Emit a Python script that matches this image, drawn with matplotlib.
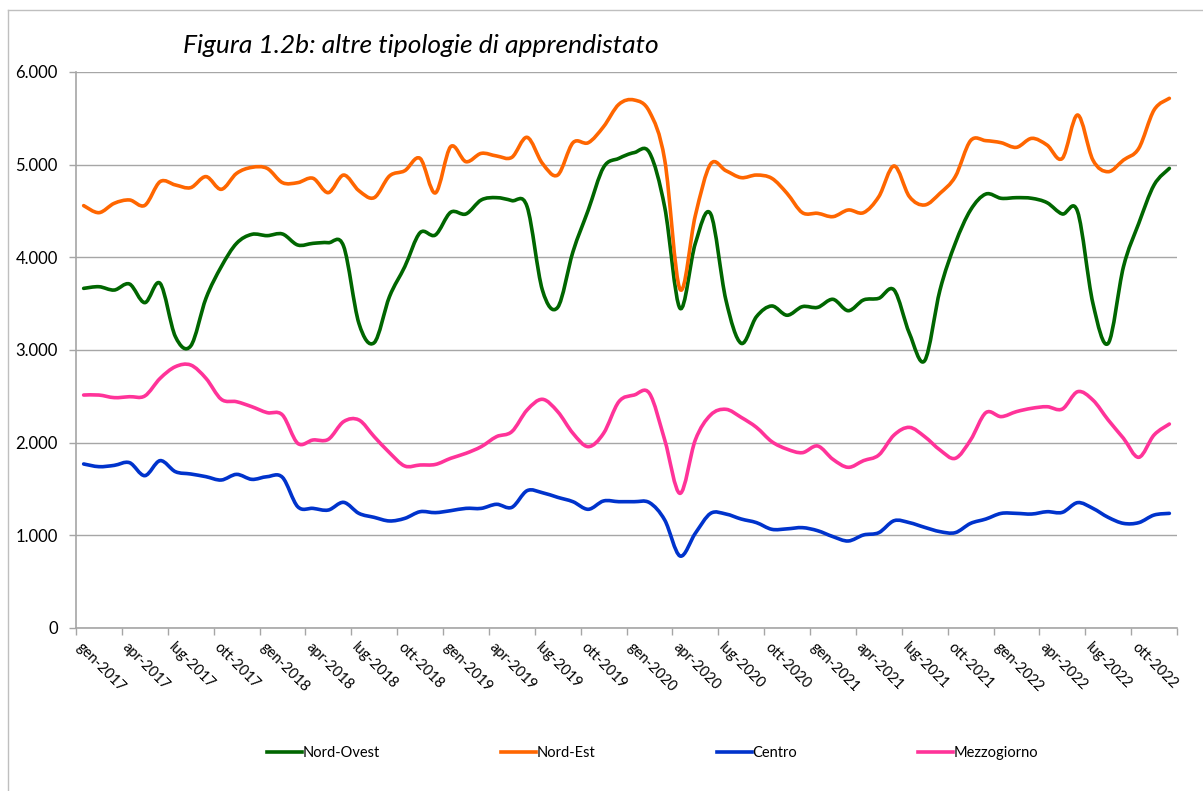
import matplotlib
matplotlib.use('Agg')
import matplotlib.pyplot as plt
import matplotlib.ticker as ticker
from matplotlib.path import Path
from matplotlib.patches import PathPatch
from matplotlib.lines import Line2D

plt.rcParams['font.family'] = ['Lato', 'DejaVu Sans']

months = ['gen', 'feb', 'mar', 'apr', 'mag', 'giu', 'lug', 'ago', 'set', 'ott', 'nov', 'dic']
years = [2017, 2018, 2019, 2020, 2021, 2022]
periods = [f'{m}-{y}' for y in years for m in months]

nord_ovest = [3665, 3683, 3647, 3712, 3511, 3719, 3144, 3043, 3558, 3899, 4151, 4248,
              4234, 4252, 4133, 4151, 4158, 4120, 3288, 3079, 3576, 3899, 4266, 4241,
              4486, 4468, 4619, 4644, 4612, 4547, 3647, 3460, 4061, 4511, 4971, 5068,
              5130, 5130, 4540, 3450, 4150, 4470, 3540, 3072, 3360, 3475, 3375,
              3468, 3460, 3547, 3424, 3540, 3558, 3647, 3180, 2885, 3647, 4151, 4511,
              4683, 4637, 4644, 4637, 4590, 4468, 4493, 3504, 3072, 3899, 4367, 4781, 4960]

nord_est = [4558, 4482, 4583, 4619, 4561, 4817, 4781, 4752, 4871, 4734, 4906, 4971,
            4960, 4806, 4806, 4853, 4698, 4888, 4719, 4644, 4878, 4935, 5068, 4695,
            5194, 5032, 5122, 5094, 5079, 5295, 5014, 4888, 5237, 5237, 5410, 5651,
            5698, 5572, 5050, 3655, 4450, 5007, 4935, 4860, 4888, 4853, 4690,
            4482, 4475, 4439, 4511, 4482, 4655, 4986, 4655, 4565, 4691, 4871, 5259,
            5259, 5237, 5187, 5284, 5212, 5068, 5536, 5050, 4924, 5050, 5176, 5590, 5716]

centro = [1770, 1741, 1755, 1784, 1644, 1806, 1687, 1662, 1633, 1597, 1658, 1604,
          1633, 1626, 1309, 1291, 1273, 1356, 1237, 1194, 1155, 1183, 1255, 1245,
          1266, 1291, 1291, 1335, 1302, 1482, 1460, 1410, 1363, 1281, 1371, 1363,
          1363, 1353, 1165, 777, 1022, 1237, 1230, 1176, 1137, 1065, 1070,
          1083, 1050, 986, 939, 1004, 1029, 1158, 1137, 1086, 1040, 1029, 1129,
          1176, 1237, 1237, 1230, 1255, 1248, 1353, 1291, 1194, 1129, 1137, 1219, 1237]

mezzogiorno = [2514, 2514, 2486, 2496, 2504, 2694, 2820, 2838, 2694, 2468, 2442, 2388,
               2324, 2299, 1993, 2029, 2036, 2227, 2245, 2065, 1892, 1748, 1759, 1765,
               1831, 1885, 1957, 2065, 2119, 2353, 2468, 2335, 2101, 1957, 2101, 2442,
               2514, 2532, 2029, 1453, 2029, 2299, 2360, 2273, 2165, 2011, 1930,
               1892, 1964, 1820, 1734, 1806, 1867, 2083, 2165, 2065, 1921, 1831, 2029,
               2324, 2281, 2335, 2371, 2388, 2363, 2550, 2460, 2245, 2047, 1842, 2083, 2201]

series = [('Nord-Ovest', nord_ovest, '#006600'),
          ('Nord-Est', nord_est, '#FF6600'),
          ('Centro', centro, '#0033CC'),
          ('Mezzogiorno', mezzogiorno, '#FF3399')]


def smooth_path(xs, ys):
    # Excel-like smoothed line: cubic bezier through every point
    n = len(xs)
    pts = list(zip(xs, ys))
    verts = [pts[0]]
    codes = [Path.MOVETO]
    for i in range(n - 1):
        p0 = pts[i - 1] if i > 0 else pts[i]
        p1 = pts[i]
        p2 = pts[i + 1]
        p3 = pts[i + 2] if i + 2 < n else pts[i + 1]
        c1 = (p1[0] + (p2[0] - p0[0]) / 6, p1[1] + (p2[1] - p0[1]) / 6)
        c2 = (p2[0] - (p3[0] - p1[0]) / 6, p2[1] - (p3[1] - p1[1]) / 6)
        verts += [c1, c2, p2]
        codes += [Path.CURVE4] * 3
    return Path(verts, codes)


def thousands(v, pos):
    return f'{int(v):,}'.replace(',', '.')


fig = plt.figure(figsize=(12.03, 7.91), dpi=100)
ax = fig.add_axes([76 / 1203, 1 - 628 / 791, (1177 - 76) / 1203, (628 - 72) / 791])

x = list(range(len(periods)))
handles = []
for name, vals, color in series:
    patch = PathPatch(smooth_path(x, vals), facecolor='none', edgecolor=color,
                      lw=2.6, capstyle='round', joinstyle='round', zorder=3)
    ax.add_patch(patch)
    handles.append(Line2D([], [], color=color, lw=2.6, label=name))

ax.set_xlim(-0.5, len(periods) - 0.5)
ax.set_ylim(0, 6000)
ax.yaxis.set_major_locator(ticker.MultipleLocator(1000))
ax.yaxis.set_major_formatter(ticker.FuncFormatter(thousands))
ax.grid(axis='y', color='#A6A6A6', lw=1.0, zorder=0)

ax.set_xticks([i - 0.5 for i in range(0, len(periods) + 1, 3)])
ax.set_xticklabels([])
ax.set_xticks(list(range(0, len(periods), 3)), minor=True)
ax.set_xticklabels(periods[::3], minor=True, rotation=-45, ha='left', va='top',
                   rotation_mode='anchor', fontsize=10.5)
ax.tick_params(axis='x', which='minor', length=0, pad=9)
ax.tick_params(axis='x', which='major', length=5, color='#A6A6A6', width=1)
ax.tick_params(axis='y', length=5, color='#A6A6A6', width=1, labelsize=12, pad=8)

for s in ['top', 'right']:
    ax.spines[s].set_visible(False)
for s in ['left', 'bottom']:
    ax.spines[s].set_color('#A6A6A6')
    ax.spines[s].set_linewidth(1.2)

fig.text(183 / 1203, 1 - 53 / 791, 'Figura 1.2b: altre tipologie di apprendistato',
         fontsize=19, style='italic', ha='left', va='baseline')

fig.legend(handles=handles, loc='center left', bbox_to_anchor=(267 / 1203, 1 - 753 / 791),
           ncol=4, frameon=False, fontsize=10.5, handlelength=2.4, handletextpad=0.05,
           columnspacing=8.3, borderpad=0, borderaxespad=0)

# chart area border (left and top edges visible)
fig.add_artist(Line2D([8 / 1203, 8 / 1203], [0, 1 - 10 / 791], color='#BFBFBF', lw=1,
                      transform=fig.transFigure))
fig.add_artist(Line2D([8 / 1203, 1], [1 - 10 / 791, 1 - 10 / 791], color='#BFBFBF', lw=1,
                      transform=fig.transFigure))

fig.savefig('out.png', dpi=100)
plt.close('all')
